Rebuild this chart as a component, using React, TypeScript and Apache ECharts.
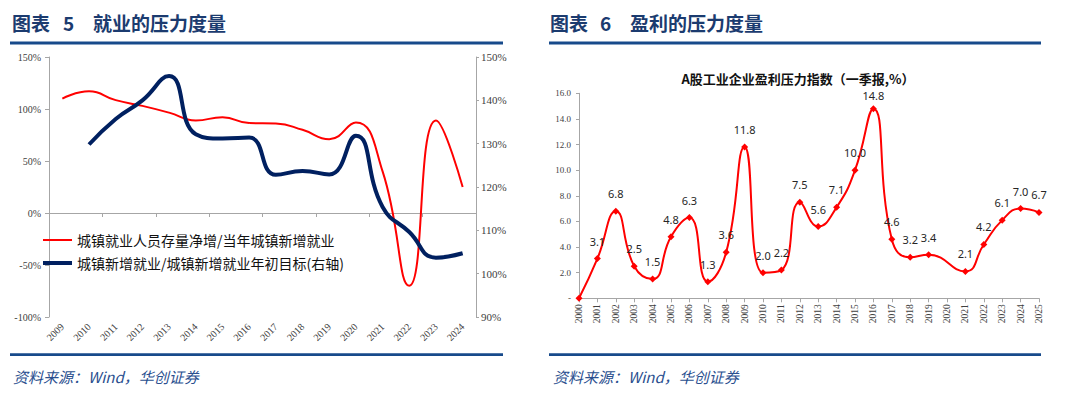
import React, { useEffect, useRef } from "react";
import * as echarts from "echarts";

// ---- Left chart: employment pressure ----
const empYears = ["2009", "2010", "2011", "2012", "2013", "2014", "2015", "2016", "2017", "2018", "2019", "2020", "2021", "2022", "2023", "2024"];
const stockRatio = [110, 117, 108.5, 103, 96.5, 89, 92, 86.5, 86, 80, 71, 87, 40, -70, 89, 25];
const targetRatio = [null, 129.8, 135.7, 140, 145.6, 132.2, 131.2, 131.4, 122.8, 123.7, 122.9, 131.8, 115.4, 109.6, 103.7, 104.7];
const empNames = ["城镇就业人员存量净增/当年城镇新增就业", "城镇新增就业/城镇新增就业年初目标(右轴)"];

// ---- Right chart: profit pressure ----
const profitYears = ["2000", "2001", "2002", "2003", "2004", "2005", "2006", "2007", "2008", "2009", "2010", "2011", "2012", "2013", "2014", "2015", "2016", "2017", "2018", "2019", "2020", "2021", "2022", "2023", "2024", "2025"];
const pressure = [0, 3.1, 6.8, 2.5, 1.5, 4.8, 6.3, 1.3, 3.6, 11.8, 2.0, 2.2, 7.5, 5.6, 7.1, 10.0, 14.8, 4.6, 3.2, 3.4, null, 2.1, 4.2, 6.1, 7.0, 6.7];
const profitTitle = "A股工业企业盈利压力指数（一季报,%）";

const SERIF = '"Liberation Serif", "DejaVu Serif", serif';
const CJK = '"Noto Sans CJK SC", sans-serif';
const AXIS_GRAY = "#A6A6A6";
const TITLE_BLUE = "#1B3B6F";
const RULE_BLUE = "#174A8B";
const SRC_BLUE = "#2A4F8F";
const RED = "#FF0000";
const NAVY = "#002060";

function headerText(x: number, text: string) {
  return {
    type: "text",
    x,
    y: 22,
    style: { text, fill: TITLE_BLUE, font: `bold 19px ${CJK}`, verticalAlign: "middle", textVerticalAlign: "middle" },
  };
}
function rule(x1: number, x2: number, y: number, w: number) {
  return { type: "line", shape: { x1, y1: y, x2, y2: y }, style: { stroke: RULE_BLUE, lineWidth: w } };
}
function source(x: number) {
  return {
    type: "text",
    x,
    y: 376,
    style: { text: "资料来源：Wind，华创证券", fill: SRC_BLUE, font: `italic 15px ${CJK}`, verticalAlign: "middle", textVerticalAlign: "middle" },
  };
}
function legendFor(name: string, top: number, thickness: number, color: string) {
  return {
    data: [{ name, icon: "rect", itemStyle: { color } }],
    orient: "vertical",
    left: 43,
    top,
    padding: 0,
    itemWidth: 29,
    itemHeight: thickness,
    itemGap: 0,
    textStyle: { fontSize: 14, lineHeight: 14, fontFamily: CJK, color: "#111" },
  };
}

export default function App() {
  const ref = useRef<HTMLDivElement>(null);
  useEffect(() => {
    const chart = echarts.init(ref.current!, null, { renderer: "svg" });
    const peakIdx = pressure.indexOf(Math.max(...(pressure.filter((v) => v != null) as number[])));
    const pressureData = pressure.map((v, i) => (i === peakIdx ? { value: v, label: { distance: 4 } } : v));
    const option: any = {
      animation: false,
      backgroundColor: "#ffffff",
      grid: [
        { left: 49, top: 57, width: 427, height: 260 },
        { left: 579, top: 93.3, width: 460, height: 205 },
      ],
      legend: [legendFor(empNames[0], 233, 2, RED), legendFor(empNames[1], 256, 4, NAVY)],
      xAxis: [
        {
          gridIndex: 0,
          type: "category",
          data: empYears,
          boundaryGap: true,
          axisLine: { show: false, onZero: false },
          axisTick: { show: false },
          axisLabel: { rotate: 45, margin: 8, fontSize: 10, fontFamily: SERIF, color: "#404040", interval: 0 },
        },
        {
          gridIndex: 0,
          type: "category",
          data: empYears,
          position: "bottom",
          boundaryGap: true,
          axisLine: { show: true, onZero: true, onZeroAxisIndex: 0, lineStyle: { color: AXIS_GRAY, width: 1 } },
          axisTick: { show: true, length: 4, lineStyle: { color: AXIS_GRAY } },
          axisLabel: { show: false },
        },
        {
          gridIndex: 1,
          type: "category",
          data: profitYears,
          boundaryGap: false,
          axisLine: { show: true, lineStyle: { color: AXIS_GRAY, width: 1 } },
          axisTick: { show: true, length: 4, alignWithLabel: true, lineStyle: { color: AXIS_GRAY } },
          axisLabel: { rotate: 90, margin: 6, fontSize: 9.5, fontFamily: SERIF, color: "#404040", interval: 0 },
        },
      ],
      yAxis: [
        {
          gridIndex: 0,
          type: "value",
          position: "left",
          min: -100,
          max: 150,
          interval: 50,
          axisLine: { show: true, lineStyle: { color: AXIS_GRAY } },
          axisTick: { show: true, length: 4, lineStyle: { color: AXIS_GRAY } },
          splitLine: { show: false },
          axisLabel: { formatter: "{value}%", margin: 8, fontSize: 10, fontFamily: SERIF, color: "#404040" },
        },
        {
          gridIndex: 0,
          type: "value",
          position: "right",
          min: 90,
          max: 150,
          interval: 10,
          axisLine: { show: true, lineStyle: { color: AXIS_GRAY } },
          axisTick: { show: true, length: 3, lineStyle: { color: AXIS_GRAY } },
          splitLine: { show: false },
          axisLabel: { formatter: "{value}%", margin: 5, fontSize: 11, fontFamily: SERIF, color: "#404040" },
        },
        {
          gridIndex: 1,
          type: "value",
          min: 0,
          max: 16,
          interval: 2,
          axisLine: { show: true, lineStyle: { color: AXIS_GRAY } },
          axisTick: { show: true, length: 3, lineStyle: { color: AXIS_GRAY } },
          splitLine: { show: false },
          axisLabel: {
            formatter: (v: number) => (v === 0 ? "-" : v.toFixed(1)),
            margin: 8,
            fontSize: 9,
            fontFamily: SERIF,
            color: "#404040",
          },
        },
      ],
      series: [
        {
          name: empNames[0],
          type: "line",
          xAxisIndex: 0,
          yAxisIndex: 0,
          data: stockRatio,
          smooth: true,
          symbol: "none",
          lineStyle: { color: RED, width: 2 },
          itemStyle: { color: RED },
        },
        {
          name: empNames[1],
          type: "line",
          xAxisIndex: 0,
          yAxisIndex: 1,
          data: targetRatio,
          smooth: true,
          symbol: "none",
          lineStyle: { color: NAVY, width: 4 },
          itemStyle: { color: NAVY },
        },
        {
          name: "盈利压力指数",
          type: "line",
          xAxisIndex: 2,
          yAxisIndex: 2,
          data: pressureData,
          smooth: true,
          connectNulls: true,
          symbol: "diamond",
          symbolSize: 7,
          lineStyle: { color: RED, width: 2 },
          itemStyle: { color: RED },
          label: {
            show: true,
            position: "top",
            distance: 8,
            fontSize: 11,
            lineHeight: 12,
            fontFamily: '"Noto Sans", sans-serif',
            color: "#262626",
            formatter: (p: any) => (p.dataIndex === 0 || p.value == null ? "" : Number(p.value).toFixed(1)),
          },
        },
      ],
      graphic: [
        headerText(12, "图表"),
        headerText(63, "5"),
        headerText(93, "就业的压力度量"),
        headerText(550, "图表"),
        headerText(600, "6"),
        headerText(630, "盈利的压力度量"),
        rule(10, 503, 43, 3),
        rule(549, 1041, 43, 3),
        rule(10, 503, 354.7, 2.7),
        rule(549, 1041, 354.7, 2.7),
        source(13),
        source(553),
        {
          type: "text",
          x: 798,
          y: 78,
          style: {
            text: profitTitle,
            fill: "#111",
            font: `bold 13px ${CJK}`,
            align: "center",
            textAlign: "center",
            verticalAlign: "middle",
            textVerticalAlign: "middle",
          },
        },
      ],
    };
    chart.setOption(option);
    return () => chart.dispose();
  }, []);
  return (
    <div
      ref={ref}
      style={{ position: "absolute", left: 0, top: 0, width: 1080, height: 397, background: "#fff" }}
    />
  );
}
